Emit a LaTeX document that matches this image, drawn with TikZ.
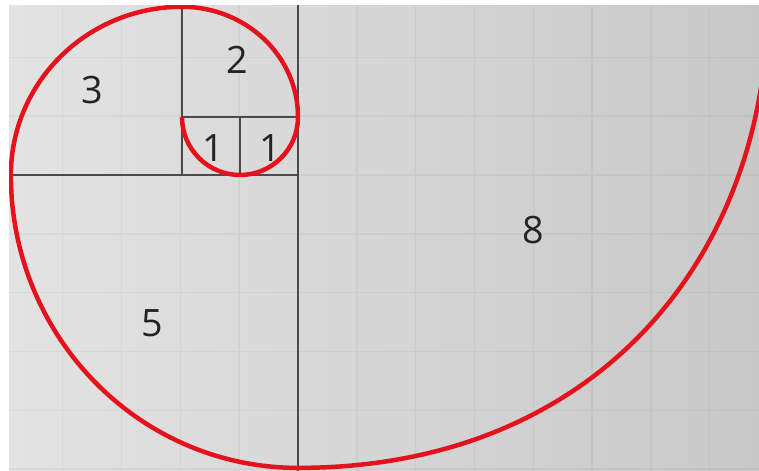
\documentclass[tikz,border=0pt]{standalone}
\usepackage{fontspec}
\setmainfont{Open Sans}
\usepackage{tikz}

\definecolor{SpiralRed}{HTML}{E5111C}
\definecolor{BackLeft}{HTML}{E3E3E3}
\definecolor{BackRight}{HTML}{C8C8C8}
\definecolor{EdgeGray}{HTML}{4A4A4A}
\definecolor{NumGray}{HTML}{242424}

\begin{document}
\begin{tikzpicture}[x=1cm, y=1cm,
  edge/.style={draw=EdgeGray, line width=1pt},
  num/.style={text=NumGray, font=\fontsize{18.5}{20}\selectfont, inner sep=0pt},
  spiral/.style={draw=SpiralRed, line width=2.2pt}]

\useasboundingbox (-5.138,-5.103) rectangle (7.948,3.017);
\clip (-4.98,-5.103) rectangle (7.948,2.914);

\shade[left color=BackLeft, right color=BackRight] (-4.98,-5.103) rectangle (7.948,2.914);
\draw[black, opacity=0.04, line width=0.7pt, step=1.014] (-4.98,-5.103) grid (7.948,2.914);

% squares
\draw[edge] (0,3) -- (0,-5.2);
\draw[edge] (-5,0) -- (0,0);
\draw[edge] (-2,3) -- (-2,0);
\draw[edge] (-2,1) -- (0,1);
\draw[edge] (-1,1) -- (-1,0);

% spiral
\draw[spiral] (-2,1) arc[start angle=180, end angle=360, radius=1]
  arc[start angle=0, end angle=90, x radius=2, y radius=1.9]
  arc[start angle=90, end angle=180, x radius=2.95, y radius=2.9]
  arc[start angle=180, end angle=270, x radius=4.95, y radius=5.05]
  .. controls (5.2,-5.05) and (8.1,-1.35) .. (8.1,3.0);

\node[num] (oneleft) at (-1.466,0.466) {1};
\node[num] (oneright) at (-0.483,0.466) {1};
\node[num] (two) at (-1.052,1.983) {2};
\node[num] (three) at (-3.552,1.466) {3};
\node[num] (five) at (-2.521,-2.552) {5};
\node[num] (eight) at (4.052,-0.948) {8};

\end{tikzpicture}
\end{document}
